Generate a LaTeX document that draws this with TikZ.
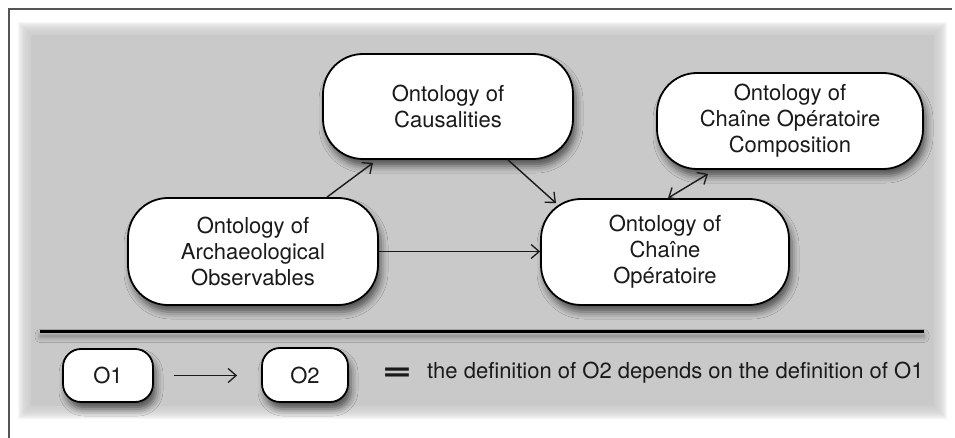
\documentclass[tikz,border=0pt]{standalone}
\usepackage{fontspec}
\usepackage{graphicx}
\setmainfont{TeX Gyre Heros}
\usetikzlibrary{arrows.meta,shadows.blur,calc}
\definecolor{panelgray}{HTML}{C9C9C9}
\definecolor{inkgray}{HTML}{1A1A1A}
\definecolor{framegray}{HTML}{555555}
\begin{document}
\begin{tikzpicture}[x=1pt,y=-1pt,
  onto/.style={draw=black, line width=1.8pt, fill=white, rounded corners=40pt,
    align=center, inner sep=0pt, text=inkgray,
    font=\fontsize{22}{26}\selectfont,
    blur shadow={shadow xshift=3pt, shadow yshift=-7pt,
      shadow blur radius=7pt, shadow opacity=60}},
  smallonto/.style={onto, rounded corners=18pt},
  barb/.tip={Straight Barb[length=8pt,width=14pt,line width=1.3pt]},
  dep/.style={line width=1.4pt, draw=inkgray, -{barb}},
  mutual/.style={line width=1.4pt, draw=inkgray, {barb}-{barb}},
  legendtext/.style={text=inkgray, inner sep=0pt, font=\fontsize{22}{26}\selectfont}]

\useasboundingbox (0,0) rectangle (955,438);

% frame lines along the top and left
\draw[framegray, line width=1.5pt] (9,438) -- (9,9) -- (952,9);

% gray panel with soft edges
\foreach \i in {0,...,13}
  \fill[panelgray, opacity=0.16] (18+\i,22+\i) rectangle (947-\i,419-\i);
\fill[panelgray] (31,35) rectangle (934,406);

% ontologies
\node[onto, minimum width=250pt, minimum height=105pt] (cause) at (448,106.5)
  {Ontology of\\Causalities};
\node[onto, minimum width=266pt, minimum height=96pt] (comp) at (790,121)
  {Ontology of\\Chaîne Opératoire\\Composition};
\node[onto, minimum width=250pt, minimum height=107pt] (arch) at (253,251.5)
  {Ontology of\\Archaeological\\Observables};
\node[onto, minimum width=248pt, minimum height=106pt] (chaine) at (665,252)
  {Ontology of\\Chaîne\\Opératoire};

% dependencies
\draw[dep] ([xshift=74pt]arch.north) -- ([xshift=-75pt,yshift=-3pt]cause.south);
\draw[dep] ([xshift=60pt]cause.south) -- ([xshift=-109pt,yshift=-5pt]chaine.north);
\draw[dep] (arch.east) -- (arch.east -| chaine.west);
\draw[mutual] ([xshift=3pt]chaine.north) -- ([xshift=-82pt,yshift=-4pt]comp.south);

% separator between diagram and legend
\fill[black, blur shadow={shadow xshift=0pt, shadow yshift=-5pt,
      shadow blur radius=5pt, shadow opacity=35}]
  (40,329.5) rectangle (924,332.5);

% legend
\node[smallonto, minimum width=90pt, minimum height=53pt] (o1) at (108,375.5) {O1};
\node[smallonto, minimum width=86pt, minimum height=54pt] (o2) at (305,375) {O2};
\draw[dep, shorten <=20pt, shorten >=24pt] (o1.east) -- (o1.east -| o2.west);
\node[inner sep=0pt, text=inkgray] (eq) at (397,374)
  {\fontsize{32}{32}\bfseries\scalebox{1.6}[1]{=}};
\node[legendtext, anchor=west] (meaning) at (427,373)
  {the definition of O2 depends on the definition of O1};
\end{tikzpicture}
\end{document}
